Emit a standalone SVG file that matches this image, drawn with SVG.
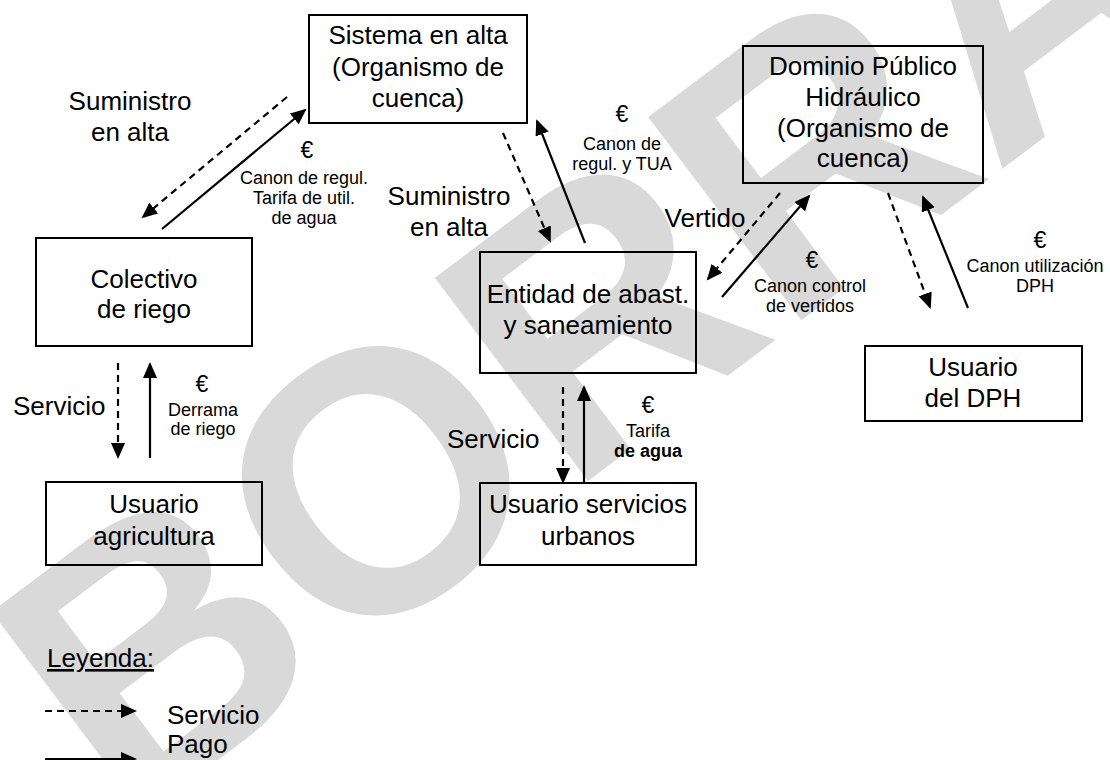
<svg xmlns="http://www.w3.org/2000/svg" width="1110" height="760" viewBox="0 0 1110 760">
<style>
  .box { fill: none; stroke: #000000; stroke-width: 2; }
  .t { font-family: "Liberation Sans", Arial, sans-serif; font-size: 26px; fill: #000; text-anchor: middle; }
  .ts { font-family: "Liberation Sans", Arial, sans-serif; font-size: 18px; fill: #000; text-anchor: middle; }
  .eu { font-family: "Liberation Sans", Arial, sans-serif; font-size: 23px; fill: #000; text-anchor: middle; }
  .st { text-anchor: start; }
  .solid { stroke: #000; stroke-width: 2.2; fill: none; marker-end: url(#ah); }
  .dash { stroke: #000; stroke-width: 2.2; fill: none; stroke-dasharray: 7 5; marker-end: url(#ah); }
  .wm { font-family: "Liberation Sans", Arial, sans-serif; font-weight: bold; font-size: 370px; fill: #d9d9d9; }
</style>
<defs>
  <marker id="ah" markerUnits="userSpaceOnUse" markerWidth="18" markerHeight="16" refX="14" refY="7" orient="auto">
    <path d="M0,0 L16,7 L0,14 Z" fill="#000"/>
  </marker>
</defs>
<rect width="1110" height="760" fill="#fff"/>
<text class="wm" transform="translate(125,830) rotate(-37)">BORRADOR</text>

<g id="connectors">
  <line class="dash" x1="287" y1="97" x2="143" y2="217"/>
  <line class="solid" x1="162" y1="229" x2="305" y2="110"/>
  <line class="dash" x1="503" y1="133" x2="550" y2="241"/>
  <line class="solid" x1="585" y1="243" x2="537" y2="121"/>
  <line class="dash" x1="780" y1="193" x2="708" y2="279"/>
  <line class="solid" x1="722" y1="297" x2="809" y2="196"/>
  <line class="dash" x1="888" y1="193" x2="930" y2="307"/>
  <line class="solid" x1="968" y1="308" x2="923" y2="197"/>
  <line class="dash" x1="118" y1="363" x2="118" y2="457"/>
  <line class="solid" x1="150" y1="458" x2="150" y2="364"/>
  <line class="dash" x1="563" y1="387" x2="563" y2="482"/>
  <line class="solid" x1="584" y1="482" x2="584" y2="387"/>
</g>

<g id="edge-labels">
  <text class="t"><tspan x="130" y="110">Suministro</tspan><tspan x="130" y="141">en alta</tspan></text>
  <text class="eu" x="307" y="158">€</text>
  <text class="ts"><tspan x="304" y="184">Canon de regul.</tspan><tspan x="304" y="204">Tarifa de util.</tspan><tspan x="304" y="224">de agua</tspan></text>
  <text class="eu" x="622" y="122">€</text>
  <text class="ts"><tspan x="622" y="150">Canon de</tspan><tspan x="622" y="170">regul. y TUA</tspan></text>
  <text class="t"><tspan x="449" y="205">Suministro</tspan><tspan x="449" y="236">en alta</tspan></text>
  <text class="t" x="705" y="227">Vertido</text>
  <text class="eu" x="812" y="268">€</text>
  <text class="ts"><tspan x="810" y="292">Canon control</tspan><tspan x="810" y="312">de vertidos</tspan></text>
  <text class="eu" x="1040" y="248">€</text>
  <text class="ts"><tspan x="1035" y="272">Canon utilización</tspan><tspan x="1035" y="292">DPH</tspan></text>
  <text class="t st" x="13" y="415">Servicio</text>
  <text class="eu" x="202" y="392">€</text>
  <text class="ts"><tspan x="203" y="416">Derrama</tspan><tspan x="203" y="435">de riego</tspan></text>
  <text class="t st" x="447" y="448">Servicio</text>
  <text class="eu" x="648" y="413">€</text>
  <text class="ts"><tspan x="648" y="437">Tarifa</tspan><tspan x="648" y="457" font-weight="bold">de agua</tspan></text>
</g>

<g id="sistema-alta">
  <rect class="box" x="309" y="15" width="218" height="108"/>
  <text class="t"><tspan x="418" y="44">Sistema en alta</tspan><tspan x="418" y="76">(Organismo de</tspan><tspan x="418" y="107">cuenca)</tspan></text>
</g>
<g id="dph">
  <rect class="box" x="743" y="46" width="240" height="137"/>
  <text class="t"><tspan x="863" y="75">Dominio Público</tspan><tspan x="863" y="106">Hidráulico</tspan><tspan x="863" y="137">(Organismo de</tspan><tspan x="863" y="167">cuenca)</tspan></text>
</g>
<g id="colectivo-riego">
  <rect class="box" x="36" y="238" width="216" height="108"/>
  <text class="t"><tspan x="144" y="288">Colectivo</tspan><tspan x="144" y="318">de riego</tspan></text>
</g>
<g id="usuario-agricultura">
  <rect class="box" x="46" y="482" width="216" height="83"/>
  <text class="t"><tspan x="154" y="513">Usuario</tspan><tspan x="154" y="545">agricultura</tspan></text>
</g>
<g id="entidad">
  <rect class="box" x="480" y="252" width="216" height="121"/>
  <text class="t"><tspan x="588" y="303">Entidad de abast.</tspan><tspan x="588" y="334">y saneamiento</tspan></text>
</g>
<g id="usuario-urbanos">
  <rect class="box" x="480" y="483" width="216" height="82"/>
  <text class="t"><tspan x="588" y="513">Usuario servicios</tspan><tspan x="588" y="545">urbanos</tspan></text>
</g>
<g id="usuario-dph">
  <rect class="box" x="865" y="346" width="217" height="75"/>
  <text class="t"><tspan x="973" y="376">Usuario</tspan><tspan x="973" y="407">del DPH</tspan></text>
</g>

<g id="legend">
  <text class="t st" x="47" y="667" text-decoration="underline">Leyenda:</text>
  <line class="dash" x1="45" y1="711" x2="135" y2="711"/>
  <text class="t st" x="167" y="724">Servicio</text>
  <text class="t st" x="167" y="753">Pago</text>
  <line class="solid" x1="45" y1="759" x2="135" y2="759"/>
</g>
</svg>
